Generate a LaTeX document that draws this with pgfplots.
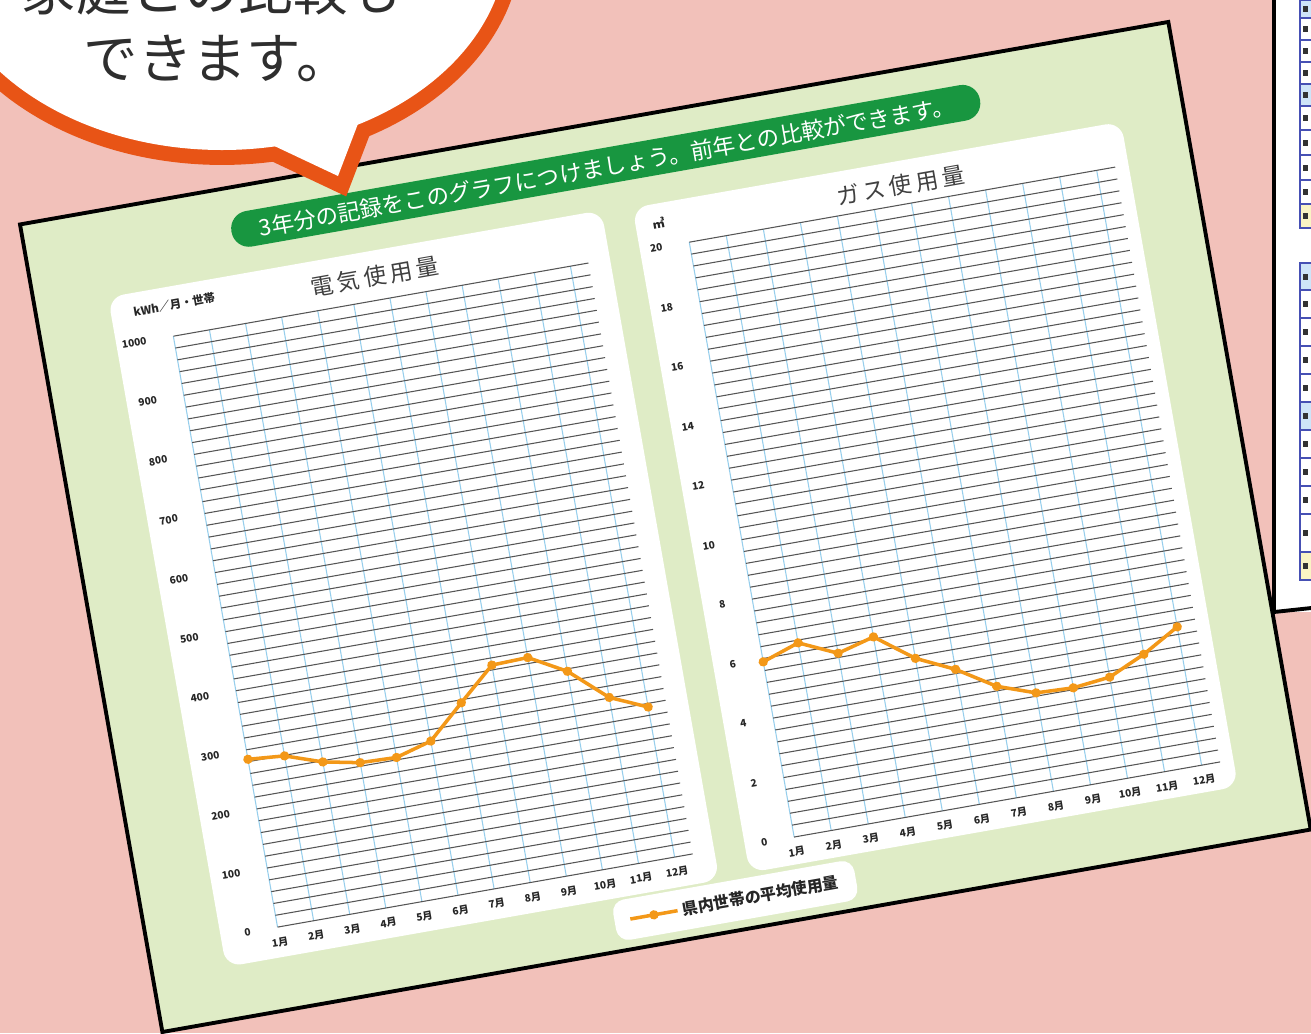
\documentclass[border=0pt]{standalone}
\usepackage{fontspec}
\setmainfont{Noto Sans CJK JP}
\usepackage{pgfplots}
\pgfplotsset{compat=1.18}
\definecolor{bgpink}{RGB}{242,193,186}
\definecolor{sheetgreen}{RGB}{223,236,198}
\definecolor{bannergreen}{RGB}{24,150,64}
\definecolor{lineorange}{RGB}{243,152,24}
\definecolor{bubbleorange}{RGB}{232,84,22}
\definecolor{gridblue}{RGB}{150,206,236}
\definecolor{gridgray}{RGB}{85,85,85}
\definecolor{cellblue}{RGB}{206,228,248}
\definecolor{cellborder}{RGB}{70,80,180}
\definecolor{cellyellow}{RGB}{250,244,196}
\pgfplotsset{
  sheetaxis/.style={
    scale only axis, anchor=south west, clip=false,
    axis line style={draw=none},
    major tick length=0pt, minor tick length=0pt,
    xmajorgrids, ymajorgrids, yminorgrids,
    x grid style={draw=gridblue, line width=0.6pt},
    y grid style={draw=gridgray, line width=0.6pt},
    xmin=0, xmax=11.5,
    xtick={0,...,11},
    xticklabels={1月,2月,3月,4月,5月,6月,7月,8月,9月,10月,11月,12月},
    minor y tick num=4,
    tick label style={font=\fontsize{5.8}{6}\selectfont\bfseries, text=black!85},
    /pgf/number format/assume math mode=true,
    /pgf/number format/1000 sep={},
    scaled y ticks=false,
    yticklabel style={xshift=-12pt},
    xticklabel style={yshift=-2.5pt},
  },
  avgline/.style={draw=lineorange, line width=2pt, mark=*, mark size=1.6pt,
    mark options={fill=lineorange, draw=lineorange}},
}
\begin{document}
\begin{tikzpicture}[x=0.2mm, y=-0.2mm]
\path[use as bounding box] (0,0) rectangle (1311,1033);
\clip (0,0) rectangle (1311,1033);
\fill[bgpink] (0,0) rectangle (1311,1033);
\begin{scope}[transform canvas={rotate around={10:(665,525)}}]
  \filldraw[fill=sheetgreen, draw=black, line width=2.2pt] (82,117) rectangle (1248,937);
  \fill[bannergreen, rounded corners=10pt] (289,143) rectangle (1049,179);
  \node[text=white, font=\fontsize{12.8}{13}\selectfont] at (670,162) {3年分の記録をこのグラフにつけましょう。前年との比較ができます。};
  \fill[white, rounded corners=9pt] (156,204) rectangle (657,884);
  \fill[white, rounded corners=9pt] (688,207) rectangle (1184,882);
  \node[text=black!75, font=\fontsize{13}{13}\selectfont] at (422.5,229.7) {電\,気\,使\,用\,量};
  \node[text=black!75, font=\fontsize{13}{13}\selectfont] at (956,231.5) {ガ\,ス\,使\,用\,量};
  \node[text=black!85, font=\fontsize{6.5}{7}\selectfont\bfseries] at (220,223) {kWh／月・世帯};
  \node[text=black!85, font=\fontsize{7}{7}\selectfont\bfseries] at (711,227) {㎥};
  \coordinate (LO) at (213.6,853.7);
  \coordinate (RO) at (738,854.7);
  \begin{axis}[sheetaxis, at={(LO)}, width=84.3mm, height=120mm,
      ymin=0, ymax=1000, ytick={0,100,...,1000},
      legend style={at={(1.0804,-0.0888)}, anchor=center, draw=none, fill=white,
        rounded corners=7pt, inner xsep=8pt, inner ysep=5pt,
        font=\fontsize{9}{10}\selectfont\bfseries, text=black!85},
      legend image code/.code={\draw[#1, mark=none] (0mm,0mm) -- (9.6mm,0mm);
        \draw[#1, only marks] plot coordinates {(4.8mm,0mm)};}]
    \addplot[avgline] coordinates {(0,284) (1,279) (2,258) (3,246) (4,244) (5,261)
      (6,315) (7,368) (8,370) (9,336) (10,281) (11,254)};
    \addlegendentry{県内世帯の平均使用量}
  \end{axis}
  \begin{axis}[sheetaxis, at={(RO)}, width=86.5mm, height=120.8mm,
      ymin=0, ymax=20, ytick={0,2,...,20}]
    \addplot[avgline] coordinates {(0,5.89) (1,6.31) (2,5.74) (3,6.07) (4,5.13) (5,4.54)
      (6,3.75) (7,3.31) (8,3.26) (9,3.40) (10,3.95) (11,4.65)};
  \end{axis}
\end{scope}
% table on the right
\fill[white] (1274,-10) rectangle (1330,612);
\foreach \a/\b/\c in {0/18/cellblue, 18/40/white, 40/62/white, 62/84/white, 84/106/cellblue,
    106/130/white, 130/155/white, 155/180/white, 180/204/white, 204/228/cellyellow,
    263/290/cellblue, 290/318/white, 318/346/white, 346/374/white, 374/402/white,
    402/430/cellblue, 430/458/white, 458/486/white, 486/514/white, 514/552/white, 552/580/cellyellow}
  {\filldraw[fill=\c, draw=cellborder, line width=0.6pt] (1300,\a) rectangle (1335,\b);
   \fill[black!80] (1303,{(\a+\b)/2-3}) rectangle (1308,{(\a+\b)/2+3});}
\draw[black, line width=2.2pt] (1274,-10) -- (1274,612) -- (1330,606);
% speech bubble
\draw[bubbleorange, line width=17pt] (222,-60) ellipse [x radius=285, y radius=210];
\draw[bubbleorange, line width=17pt, line join=miter, miter limit=10] (268,143) -- (338,176) -- (364,108) -- cycle;
\fill[white] (222,-60) ellipse [x radius=285, y radius=210];
\fill[white] (268,143) -- (338,176) -- (364,108) -- cycle;
\node[text=black!82, font=\fontsize{31}{31}\selectfont, inner sep=0pt] at (212,-10) {家庭との比較も};
\node[text=black!82, font=\fontsize{31}{31}\selectfont, inner sep=0pt] at (217,58) {できます。};
\end{tikzpicture}
\end{document}
